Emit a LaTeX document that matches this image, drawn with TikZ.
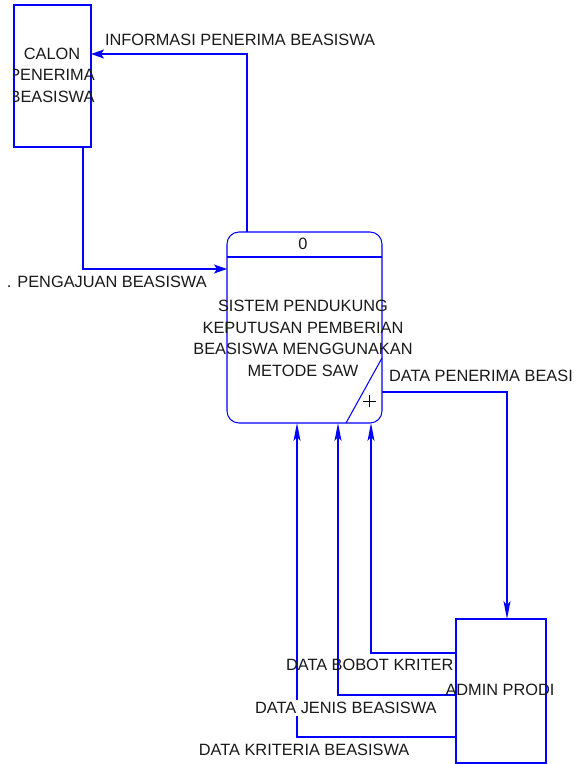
\documentclass[tikz,border=0pt]{standalone}
\usepackage{fontspec}
\setmainfont{Liberation Sans}
\usetikzlibrary{arrows.meta}
\definecolor{dfdblue}{RGB}{0,0,255}
\begin{document}
\begin{tikzpicture}[x=1pt,y=-1pt,
  every node/.style={inner sep=0pt,outer sep=0pt,font=\fontsize{16.35}{21.5}\selectfont,text=black!90},
  entbox/.style={draw=dfdblue,line width=1.05pt,rectangle},
  procbox/.style={draw=dfdblue,line width=1.05pt,rectangle,rounded corners=12pt},
  flow/.style={draw=dfdblue,line width=1.05pt},
  harr/.style={-{Stealth[length=13pt,width=9pt,inset=3pt]}},
  varr/.style={-{Stealth[length=18pt,width=7pt,inset=4pt]}},
  lbl/.style={anchor=base west},
  lble/.style={anchor=base east}
]
\useasboundingbox (0,0) rectangle (582,764);

% external entities and process
\node[entbox,minimum width=77pt,minimum height=142pt] (calon) at (52.5,76) {};
\node[entbox,minimum width=90pt,minimum height=144pt] (admin) at (501,691) {};
\node[procbox,minimum width=155pt,minimum height=191pt] (proc) at (304.5,327.5) {};

% process decorations
\draw[flow] ([yshift=-25pt]proc.north west) -- ([yshift=-25pt]proc.north east);
\draw[flow] ([xshift=-36pt]proc.south east) -- ([yshift=65pt]proc.south east);
\coordinate (plusc) at ([xshift=-12.5pt,yshift=22pt]proc.south east);
\draw[black,line width=0.6pt] ([xshift=-6.3pt]plusc) -- ([xshift=6.3pt]plusc)
  ([yshift=-6pt]plusc) -- ([yshift=6pt]plusc);

% texts in shapes
\begin{scope}
\clip (13,0) rectangle (300,200);
\node[align=center] (calontxt) at (52,75.3) {CALON\\PENERIMA\\BEASISWA};
\end{scope}
\node[anchor=base] (zero) at (303,249.3) {0};
\node[align=center] (proctxt) at (303,338.4) {SISTEM PENDUKUNG\\KEPUTUSAN PEMBERIAN\\BEASISWA MENGGUNAKAN\\METODE SAW};

% flows
\draw[flow,harr] ([xshift=20pt]proc.north west) |- ([yshift=-49pt]calon.north east);
\draw[flow,harr] ([xshift=-8pt]calon.south east) |- ([yshift=-37pt]proc.north west);
\draw[flow,varr] ([yshift=-160pt]proc.north east) -| ([xshift=6pt]admin.north);
\draw[flow,varr] ([yshift=-34pt]admin.north west) -| ([xshift=-11pt]proc.south east);
\draw[flow,varr] ([yshift=-76pt]admin.north west) -| ([xshift=-44pt]proc.south east);
\draw[flow,varr] ([yshift=-118pt]admin.north west) -| ([xshift=70pt]proc.south west);

% labels
\node[lbl] (l1) at (105,45.3) {INFORMASI PENERIMA BEASISWA};
\node[lble] (l2) at (206.7,287.8) {. PENGAJUAN BEASISWA};
\node[lbl] (l3) at (389,381.8) {DATA PENERIMA BEASI};
\node[lbl] (l4) at (286,670.8) {DATA BOBOT KRITER};
\node[lble,fill=white,inner ysep=2pt] (l5) at (436.5,713.8) {DATA JENIS BEASISWA};
\node[lble] (l6) at (409.3,755.8) {DATA KRITERIA BEASISWA};
\node[anchor=base] (admintxt) at (500,695.8) {ADMIN PRODI};
\end{tikzpicture}
\end{document}
